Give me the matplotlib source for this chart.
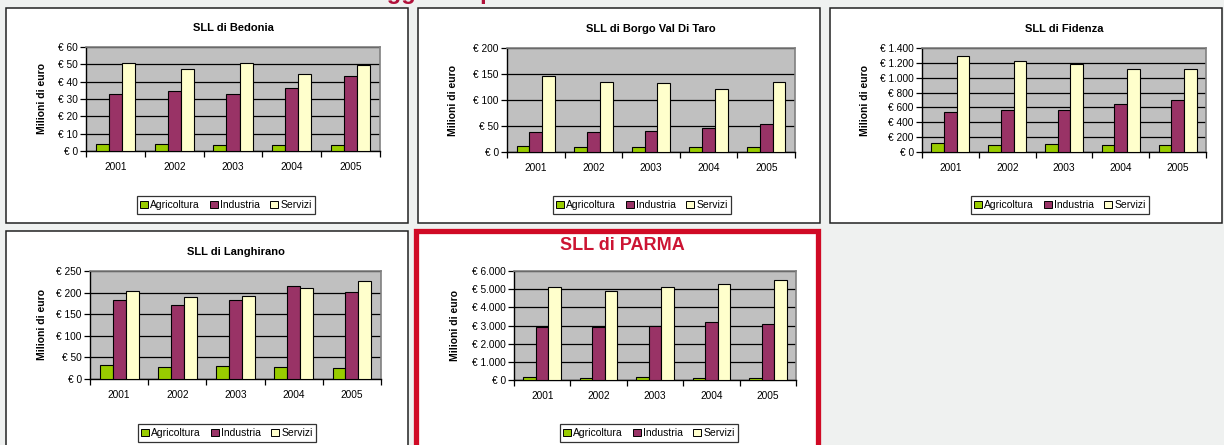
import numpy as np
import matplotlib

matplotlib.use('Agg')
import matplotlib.pyplot as plt
from matplotlib.patches import Rectangle, Patch
from matplotlib.ticker import FuncFormatter, MultipleLocator, FixedLocator

plt.rcParams['font.family'] = ['Liberation Sans', 'DejaVu Sans']

W, H = 1224, 445

years = ['2001', '2002', '2003', '2004', '2005']
series_names = ['Agricoltura', 'Industria', 'Servizi']

bedonia_agri = [4.2, 4.0, 3.7, 3.6, 3.6]
bedonia_ind = [33.1, 34.4, 33.1, 36.5, 43.5]
bedonia_serv = [51.0, 47.5, 51.0, 44.6, 49.4]

borgo_agri = [12, 10, 10, 10, 10]
borgo_ind = [38.5, 38.5, 41, 46, 54]
borgo_serv = [146, 134.6, 132.7, 121, 134]

fidenza_agri = [117, 94, 103, 94, 90]
fidenza_ind = [538, 570, 570, 646, 704]
fidenza_serv = [1292, 1225, 1184, 1117, 1117]

langhirano_agri = [32, 28.5, 29, 27, 25.5]
langhirano_ind = [182, 172, 184, 214.5, 200.6]
langhirano_serv = [203, 189, 192, 211, 227.6]

parma_agri = [184, 129, 184, 129, 129]
parma_ind = [2926, 2890, 3000, 3166, 3110]
parma_serv = [5098, 4877, 5098, 5264, 5485]

colors = ['#99CC00', '#993366', '#FFFFCC']


def fig_box(x0, y0, x1, y1):
    return [x0 / W, 1 - y1 / H, (x1 - x0) / W, (y1 - y0) / H]


def euro(v, pos):
    return '€ ' + f'{v:,.0f}'.replace(',', '.')


fig = plt.figure(figsize=(W / 100, H / 100), dpi=100)
fig.patch.set_facecolor('#EFF1F0')

# page heading, cut off at the top edge as in the source slide
fig.text(296 / W, 1 + 1.5 / H, 'Valore aggiunto per settore', color='#B0103A',
         fontsize=17, fontweight='bold', ha='left', va='baseline')

# panel frames
frames = [(5.5, 8, 407.5, 223), (418, 8, 820, 223), (830, 8, 1222, 223),
          (5.5, 231, 407.5, 452)]
for x0, y0, x1, y1 in frames:
    fig.add_artist(Rectangle((x0 / W, 1 - y1 / H), (x1 - x0) / W, (y1 - y0) / H,
                             transform=fig.transFigure, facecolor='white',
                             edgecolor='#222222', lw=1.1, zorder=-1))
fig.add_artist(Rectangle((416 / W, 1 - 452 / H), 402 / W, 221 / H,
                         transform=fig.transFigure, facecolor='white',
                         edgecolor='#D00A25', lw=3.8, zorder=-1))

charts = [
    dict(title='SLL di Bedonia', data=[bedonia_agri, bedonia_ind, bedonia_serv],
         ymax=60, step=10, box=(86, 47, 380, 151), title_y=28, ylab_x=47,
         legend=(226, 205)),
    dict(title='SLL di Borgo Val Di Taro', data=[borgo_agri, borgo_ind, borgo_serv],
         ymax=200, step=50, box=(507, 48, 795, 152), title_y=29, ylab_x=458,
         legend=(642, 205)),
    dict(title='SLL di Fidenza', data=[fidenza_agri, fidenza_ind, fidenza_serv],
         ymax=1400, step=200, box=(922, 48, 1206, 152), title_y=29, ylab_x=870,
         legend=(1060, 205)),
    dict(title='SLL di Langhirano', data=[langhirano_agri, langhirano_ind, langhirano_serv],
         ymax=250, step=50, box=(90, 271, 381, 379), title_y=252, ylab_x=47,
         legend=(227, 433)),
    dict(title='SLL di PARMA', data=[parma_agri, parma_ind, parma_serv],
         ymax=6000, step=1000, box=(514, 271, 796, 380), title_y=245, ylab_x=460,
         legend=(649, 433), red=True),
]

x = np.arange(len(years))
bw = 1 / 4.5

for c in charts:
    x0, y0, x1, y1 = c['box']
    ax = fig.add_axes(fig_box(x0, y0, x1, y1))
    ax.set_facecolor('#C0C0C0')
    for i, vals in enumerate(c['data']):
        ax.bar(x + (i - 1) * bw, vals, width=bw, color=colors[i],
               edgecolor='black', linewidth=0.8, zorder=3)
    ax.set_xlim(-0.5, len(years) - 0.5)
    ax.set_ylim(0, c['ymax'])
    ax.yaxis.set_major_locator(MultipleLocator(c['step']))
    ax.yaxis.set_major_formatter(FuncFormatter(euro))
    ax.grid(axis='y', color='black', linewidth=0.9, zorder=1)
    ax.set_axisbelow(True)

    ax.set_xticks(x)
    ax.set_xticklabels(years)
    ax.xaxis.set_minor_locator(FixedLocator(np.arange(-0.5, len(years), 1)))
    ax.tick_params(axis='x', which='major', length=0, pad=8, labelsize=7.3)
    ax.tick_params(axis='x', which='minor', length=4, width=0.9, direction='out')
    ax.tick_params(axis='y', length=4, width=0.9, direction='out', pad=2, labelsize=7.3)

    for side in ['top', 'right']:
        ax.spines[side].set_color('#808080')
        ax.spines[side].set_linewidth(1.2)
    for side in ['left', 'bottom']:
        ax.spines[side].set_color('black')
        ax.spines[side].set_linewidth(1.0)

    ax.set_ylabel('Milioni di euro', fontsize=7.5, fontweight='bold')
    ax.yaxis.set_label_coords((c['ylab_x'] - x0) / (x1 - x0), 0.5)

    cx = (x0 + x1) / 2
    if c.get('red'):
        fig.text(622 / W, 1 - c['title_y'] / H, c['title'], color='#CC1433',
                 fontsize=13, fontweight='bold', ha='center', va='center')
    else:
        fig.text(cx / W, 1 - c['title_y'] / H, c['title'], fontsize=8,
                 fontweight='bold', ha='center', va='center')

    handles = [Patch(facecolor=col, edgecolor='black', linewidth=0.7) for col in colors]
    lx, ly = c['legend']
    leg = ax.legend(handles, series_names, loc='center', ncol=3,
                    bbox_to_anchor=(lx / W, 1 - ly / H), bbox_transform=fig.transFigure,
                    fontsize=7.5, frameon=True, fancybox=False, edgecolor='black',
                    handlelength=0.7, handleheight=0.7, handletextpad=0.25,
                    columnspacing=1.0, borderpad=0.35)
    leg.get_frame().set_linewidth(0.9)

fig.savefig('out.png', dpi=100, facecolor=fig.get_facecolor())
plt.close(fig)
